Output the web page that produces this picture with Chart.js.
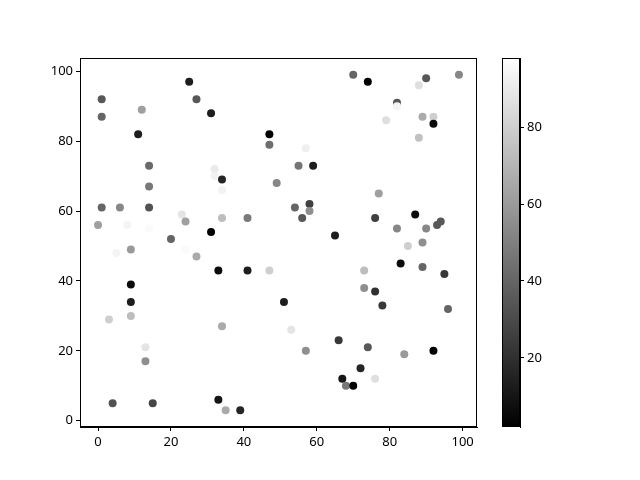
<!DOCTYPE html>
<html>
<head>
<meta charset="utf-8">
<script src="https://cdn.jsdelivr.net/npm/chart.js@4"></script>
<style>
  body { margin: 0; background: #fff; }
  canvas { position: absolute; left: 0; top: 0; }
</style>
</head>
<body>
<canvas id="scatter" width="640" height="480"></canvas>
<canvas id="barra" width="640" height="480"></canvas>
<script>
// dados
var xs = [25, 1, 27, 1, 12, 31, 11, 47, 47, 14, 32, 32, 34, 34, 49, 14, 1, 6, 14, 0,
          8, 14, 23, 24, 34, 41, 31, 20, 70, 74, 90, 99, 88, 82, 82, 79, 89, 92, 92, 88,
          57, 55, 59, 77, 54, 58, 58, 56, 65, 76, 87, 92, 82, 90, 93, 94, 85, 89, 5, 9,
          24, 27, 33, 41, 47, 9, 9, 3, 9, 34, 13, 13, 0, 4, 15, 33, 35, 39, 51, 53,
          57, 66, 74, 72, 67, 68, 70, 76, 73, 73, 76, 78, 83, 89, 95, 96, 84, 92];
var ys = [97, 92, 92, 87, 89, 88, 82, 82, 79, 73, 72, 70, 69, 66, 68, 67, 61, 61, 61, 56,
          56, 55, 59, 57, 58, 58, 54, 52, 99, 97, 98, 99, 96, 91, 90, 86, 87, 87, 85, 81,
          78, 73, 73, 65, 61, 62, 60, 58, 53, 58, 59, 62, 55, 55, 56, 57, 50, 51, 48, 49,
          49, 47, 43, 43, 43, 39, 34, 29, 30, 27, 21, 17, 9, 5, 5, 6, 3, 3, 34, 26,
          20, 23, 21, 15, 12, 10, 10, 12, 43, 38, 37, 33, 45, 44, 42, 32, 19, 20];
var cores = [13, 35, 35, 40, 62, 13, 13, 3, 43, 42, 90, 93, 16, 93, 53, 47, 40, 53, 33, 62,
             94, 96, 88, 62, 73, 48, 3, 40, 40, 2, 35, 53, 86, 35, 94, 86, 66, 80, 6, 75,
             92, 46, 13, 62, 40, 26, 56, 35, 13, 26, 7, 98, 53, 53, 35, 35, 80, 56, 94, 60,
             96, 66, 6, 13, 80, 6, 13, 80, 73, 66, 88, 56, 98, 33, 28, 10, 66, 16, 13, 88,
             56, 23, 35, 16, 10, 47, 2, 86, 73, 56, 20, 23, 6, 40, 23, 40, 60, 2];
var ticksXY = [0, 20, 40, 60, 80, 100];
var ticksBarra = [20, 40, 60, 80];

var vmin = Math.min.apply(null, cores);
var vmax = Math.max.apply(null, cores);

function cinza(v) {
    var g = Math.round(255 * (v - vmin) / (vmax - vmin));
    return 'rgb(' + g + ',' + g + ',' + g + ')';
}

var pontos = xs.map(function (x, i) { return { x: x, y: ys[i] }; });
var fonte = { family: '"Noto Sans", "DejaVu Sans", sans-serif', size: 13 };

// moldura em volta da área do gráfico
var moldura = {
    id: 'moldura',
    afterDraw: function (chart) {
        var a = chart.chartArea, c = chart.ctx;
        c.save();
        c.strokeStyle = '#000';
        c.lineWidth = 1;
        c.strokeRect(Math.round(a.left) + 0.5, Math.round(a.top) + 0.5,
                     Math.round(a.right - a.left) - 1, Math.round(a.bottom - a.top) - 1);
        c.restore();
    }
};

function eixo(min, max, ticks) {
    return {
        type: 'linear',
        min: min,
        max: max,
        afterBuildTicks: function (s) { s.ticks = ticks.map(function (v) { return { value: v }; }); },
        grid: { display: true, drawOnChartArea: false, drawTicks: true, tickLength: 4, color: '#000' },
        border: { display: true, color: '#000' },
        ticks: { color: '#000', font: fonte, padding: 3 }
    };
}

var eixoX = eixo(-4.95, 103.95, ticksXY);
eixoX.afterFit = function (s) { s.height = 53; };
var eixoY = eixo(-1.8, 103.8, ticksXY);
eixoY.afterFit = function (s) { s.width = 80; };

new Chart(document.getElementById('scatter').getContext('2d'), {
    type: 'scatter',
    data: {
        datasets: [{
            data: pontos,
            pointRadius: 4,
            pointHoverRadius: 4,
            pointBorderWidth: 0,
            pointBackgroundColor: cores.map(cinza),
            pointBorderColor: cores.map(cinza)
        }]
    },
    options: {
        responsive: false,
        animation: false,
        devicePixelRatio: 1,
        layout: { padding: { left: 0, top: 58, right: 163, bottom: 0 } },
        plugins: { legend: { display: false }, tooltip: { enabled: false } },
        scales: { x: eixoX, y: eixoY }
    },
    plugins: [moldura]
});

// barra de cores
var eixoBarra = eixo(vmin, vmax, ticksBarra);
eixoBarra.position = 'right';
eixoBarra.afterFit = function (s) { s.width = 120; };

new Chart(document.getElementById('barra').getContext('2d'), {
    type: 'bar',
    data: {
        labels: [''],
        datasets: [{
            data: [[vmin, vmax]],
            barPercentage: 1,
            categoryPercentage: 1,
            borderWidth: 0,
            backgroundColor: function (c) {
                var a = c.chart.chartArea;
                if (!a) return '#888';
                var g = c.chart.ctx.createLinearGradient(0, a.bottom, 0, a.top);
                g.addColorStop(0, '#000');
                g.addColorStop(1, '#fff');
                return g;
            }
        }]
    },
    options: {
        responsive: false,
        animation: false,
        devicePixelRatio: 1,
        layout: { padding: { left: 502, top: 58, right: 0, bottom: 53 } },
        plugins: { legend: { display: false }, tooltip: { enabled: false } },
        scales: {
            x: { display: false },
            y: eixoBarra
        }
    },
    plugins: [moldura]
});
</script>
</body>
</html>
